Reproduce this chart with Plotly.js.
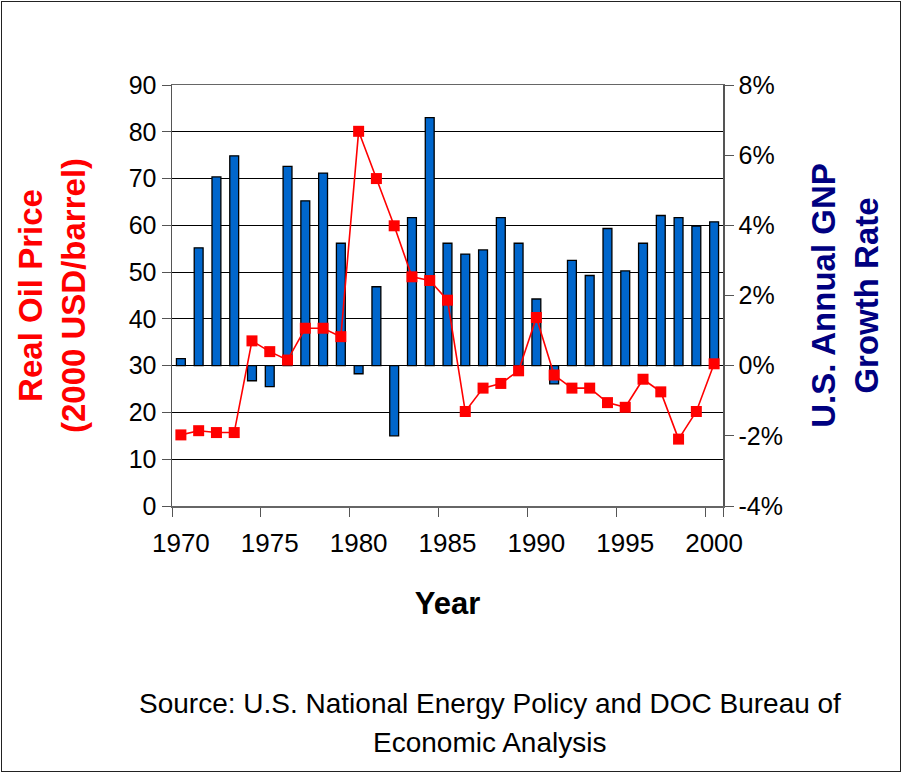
<!DOCTYPE html>
<html>
<head>
<meta charset="utf-8">
<script src="https://cdn.plot.ly/plotly-3.0.1.min.js"></script>
<style>
  html, body { margin: 0; padding: 0; background: #fff; }
  #wrap { position: relative; width: 903px; height: 774px; }
  #plot { position: absolute; left: 0; top: 0; width: 903px; height: 774px; }
  #frame { position: absolute; left: 1px; top: 1px; width: 898px; height: 769px; border: 1px solid #222; pointer-events: none; }
</style>
</head>
<body>
<div id="wrap"><div id="plot"></div><div id="frame"></div></div>
<script>
const years = ['1970','1971','1972','1973','1974','1975','1976','1977','1978','1979',
               '1980','1981','1982','1983','1984','1985','1986','1987','1988','1989',
               '1990','1991','1992','1993','1994','1995','1996','1997','1998','1999','2000'];
// Real oil price, 2000 USD per barrel (left axis)
const oilPrice = [15.2, 16.1, 15.7, 15.7, 35.3, 33.0, 31.2, 38.0, 38.0, 36.2,
                  80.1, 70.0, 59.9, 49.0, 48.2, 44.0, 20.2, 25.2, 26.2, 28.9,
                  40.3, 28.0, 25.2, 25.2, 22.1, 21.1, 27.1, 24.4, 14.3, 20.2, 30.4];
// U.S. annual GNP growth rate, percent (right axis)
const gnpGrowth = [0.2, 3.36, 5.38, 5.98, -0.43, -0.6, 5.68, 4.70, 5.49, 3.49,
                   -0.23, 2.25, -2.0, 4.22, 7.07, 3.49, 3.18, 3.30, 4.22, 3.49,
                   1.90, -0.52, 3.0, 2.57, 3.91, 2.70, 3.49, 4.28, 4.22, 3.98, 4.10];
const xTickLabels = ['1970','1975','1980','1985','1990','1995','2000'];
const gnpTickVals = [-4, -2, 0, 2, 4, 6, 8];
const gnpTickText = ['-4%', '-2%', '0%', '2%', '4%', '6%', '8%'];

const FONT = 'Liberation Sans, Arial, Helvetica, sans-serif';

const bars = {
  type: 'bar', x: years, y: gnpGrowth, xaxis: 'x', yaxis: 'y',
  width: 0.5,
  marker: { color: '#0066CC', line: { color: '#000000', width: 1.3 } },
  hoverinfo: 'x+y', showlegend: false
};
const oil = {
  type: 'scatter', mode: 'lines+markers', x: years, y: oilPrice, xaxis: 'x', yaxis: 'y2',
  line: { color: '#FF0000', width: 1.6 },
  marker: { symbol: 'square', size: 11, color: '#FF0000' },
  showlegend: false
};

const layout = {
  width: 903, height: 774,
  margin: { l: 172, r: 180, t: 85, b: 268 },
  paper_bgcolor: '#ffffff', plot_bgcolor: '#ffffff',
  font: { family: FONT, color: '#000000' },
  showlegend: false,
  bargap: 0,
  xaxis: {
    type: 'category',
    categoryorder: 'array', categoryarray: years,
    range: [-0.5, 30.5],
    tickmode: 'array', tickvals: xTickLabels, ticktext: xTickLabels,
    tickson: 'boundaries', tickangle: 0,
    ticks: 'outside', ticklen: 9, tickwidth: 1, tickcolor: '#555555',
    ticklabelstandoff: 13,
    tickfont: { size: 26, family: FONT, color: '#000' },
    showline: true, linecolor: '#666666', linewidth: 1.5, mirror: true,
    showgrid: false, zeroline: false,
    title: { text: 'Year', font: { size: 31, family: FONT, weight: 'bold', color: '#000' }, standoff: 35 }
  },
  yaxis: {
    side: 'right',
    range: [-4, 8], tickmode: 'array', tickvals: gnpTickVals, ticktext: gnpTickText,
    ticks: 'outside', ticklen: 9, tickwidth: 1, tickcolor: '#555555',
    tickfont: { size: 25, family: FONT, color: '#000' },
    showline: true, linecolor: '#555555', linewidth: 1.5,
    showgrid: false, zeroline: false,
    title: { text: 'U.S. Annual GNP<br>Growth Rate', font: { size: 33, family: FONT, weight: 'bold', color: '#000080' }, standoff: 30 }
  },
  yaxis2: {
    overlaying: 'y', side: 'left', anchor: 'x',
    range: [0, 90], tickmode: 'linear', tick0: 0, dtick: 10,
    ticks: 'outside', ticklen: 9, tickwidth: 1, tickcolor: '#555555',
    tickfont: { size: 25, family: FONT, color: '#000' },
    showline: true, linecolor: '#555555', linewidth: 1.5,
    showgrid: true, gridcolor: '#000000', gridwidth: 1,
    zeroline: false,
    title: { text: 'Real Oil Price<br>(2000 USD/barrel)', font: { size: 33, family: FONT, weight: 'bold', color: '#FF0000' }, standoff: 33 }
  },
  annotations: [
    { text: 'Source: U.S. National Energy Policy and DOC Bureau of', xref: 'paper', yref: 'paper',
      x: 0.577, y: -0.468, xanchor: 'center', yanchor: 'middle', showarrow: false,
      font: { size: 28, family: FONT, color: '#000' } },
    { text: 'Economic Analysis', xref: 'paper', yref: 'paper',
      x: 0.577, y: -0.5606, xanchor: 'center', yanchor: 'middle', showarrow: false,
      font: { size: 28, family: FONT, color: '#000' } }
  ]
};

Plotly.newPlot('plot', [bars, oil], layout, { displayModeBar: false, staticPlot: true });
</script>
</body>
</html>
